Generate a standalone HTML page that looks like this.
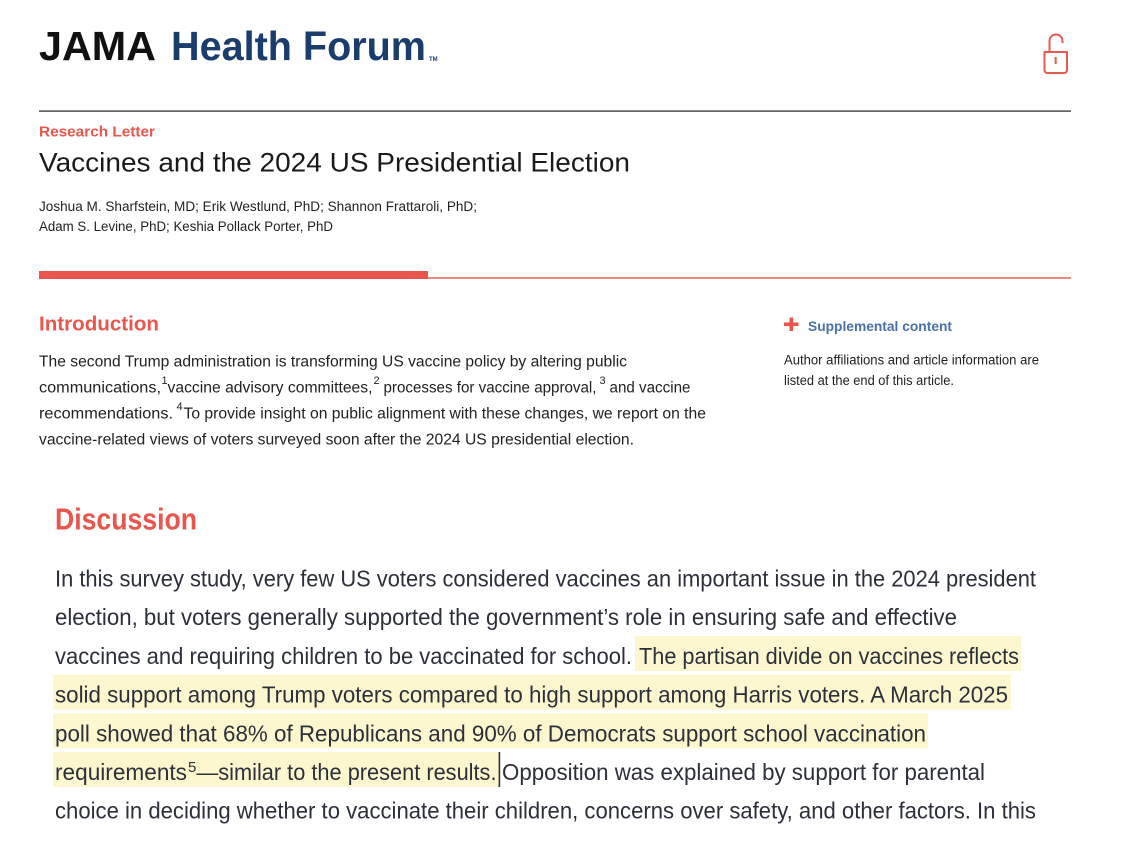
<!DOCTYPE html>
<html>
<head>
<meta charset="utf-8">
<style>
  html,body{margin:0;padding:0;background:#fff;}
  svg{display:block;}
  text{font-family:"Liberation Sans", Arial, sans-serif;}
</style>
</head>
<body>
<svg width="1129" height="862" viewBox="0 0 1129 862" xmlns="http://www.w3.org/2000/svg">
  <rect x="0" y="0" width="1129" height="862" fill="#ffffff"/>

  <!-- Logo -->
  <text x="39" y="60" font-size="41" font-weight="bold" fill="#111111" textLength="117" lengthAdjust="spacingAndGlyphs">JAMA</text>
  <text x="171" y="60" font-size="41" font-weight="bold" fill="#1b3d6d" textLength="255" lengthAdjust="spacingAndGlyphs">Health Forum</text>
  <text x="429" y="61" font-size="6" font-weight="bold" fill="#1b3d6d">TM</text>

  <!-- Lock icon -->
  <g fill="none" stroke="#e55a50" stroke-width="2">
    <path d="M1049.5 52 V41 a6.5 6.5 0 0 1 13 0 V43"/>
    <path d="M1044.5 52 H1067 V70 a3 3 0 0 1 -3 3 H1047.5 a3 3 0 0 1 -3 -3 Z"/>
    <line x1="1055.7" y1="57" x2="1055.7" y2="64"/>
  </g>

  <!-- Top rule -->
  <rect x="39" y="110.5" width="1032" height="1.2" fill="#222"/>

  <!-- Research Letter -->
  <text x="39" y="136.5" font-size="15" font-weight="bold" fill="#e9564d" textLength="116" lengthAdjust="spacingAndGlyphs">Research Letter</text>
  <text x="39" y="171.5" font-size="27" fill="#1a1a1a" textLength="591" lengthAdjust="spacingAndGlyphs">Vaccines and the 2024 US Presidential Election</text>

  <text x="39" y="211" font-size="13.5" fill="#222" textLength="438" lengthAdjust="spacingAndGlyphs">Joshua M. Sharfstein, MD; Erik Westlund, PhD; Shannon Frattaroli, PhD;</text>
  <text x="39" y="231" font-size="13.5" fill="#222" textLength="294" lengthAdjust="spacingAndGlyphs">Adam S. Levine, PhD; Keshia Pollack Porter, PhD</text>

  <!-- Red bars -->
  <rect x="39" y="271" width="389" height="8" fill="#e9564d"/>
  <rect x="428" y="277.3" width="643" height="1.4" fill="#e9564d"/>

  <!-- Introduction -->
  <text x="39" y="330.5" font-size="20" font-weight="bold" fill="#e9564d" textLength="120" lengthAdjust="spacingAndGlyphs">Introduction</text>

  <text x="39" y="366.5" font-size="15.5" fill="#222" textLength="588" lengthAdjust="spacingAndGlyphs">The second Trump administration is transforming US vaccine policy by altering public</text>

  <text x="39" y="392.5" font-size="15.5" fill="#222" textLength="122" lengthAdjust="spacingAndGlyphs">communications,</text>
  <text x="161.5" y="384" font-size="11" fill="#222">1</text>
  <text x="167.5" y="392.5" font-size="15.5" fill="#222" textLength="205" lengthAdjust="spacingAndGlyphs">vaccine advisory committees,</text>
  <text x="373.5" y="384" font-size="11" fill="#222">2</text>
  <text x="383.5" y="392.5" font-size="15.5" fill="#222" textLength="213" lengthAdjust="spacingAndGlyphs">processes for vaccine approval,</text>
  <text x="599.5" y="384" font-size="11" fill="#222">3</text>
  <text x="609.5" y="392.5" font-size="15.5" fill="#222" textLength="81" lengthAdjust="spacingAndGlyphs">and vaccine</text>

  <text x="39" y="418.5" font-size="15.5" fill="#222" textLength="134" lengthAdjust="spacingAndGlyphs">recommendations.</text>
  <text x="176.5" y="410" font-size="11" fill="#222">4</text>
  <text x="183.5" y="418.5" font-size="15.5" fill="#222" textLength="522.5" lengthAdjust="spacingAndGlyphs">To provide insight on public alignment with these changes, we report on the</text>

  <text x="39" y="444.5" font-size="15.5" fill="#222" textLength="595" lengthAdjust="spacingAndGlyphs">vaccine-related views of voters surveyed soon after the 2024 US presidential election.</text>

  <!-- Right column -->
  <g fill="#e9564d">
    <rect x="789.5" y="317.5" width="3.6" height="13.5"/>
    <rect x="784" y="322.5" width="14.5" height="3.6"/>
  </g>
  <text x="808" y="331" font-size="14" font-weight="bold" fill="#4a70aa" textLength="144" lengthAdjust="spacingAndGlyphs">Supplemental content</text>
  <text x="784" y="364.5" font-size="13.5" fill="#222" textLength="255" lengthAdjust="spacingAndGlyphs">Author affiliations and article information are</text>
  <text x="784" y="385" font-size="13.5" fill="#222" textLength="170" lengthAdjust="spacingAndGlyphs">listed at the end of this article.</text>

  <!-- Discussion -->
  <text x="55" y="529.5" font-size="31" font-weight="bold" fill="#e9564d" textLength="142" lengthAdjust="spacingAndGlyphs">Discussion</text>

  <!-- Highlights -->
  <g fill="#fdf7cf">
    <rect x="635" y="636" width="386" height="35"/>
    <rect x="53" y="674.6" width="958" height="35"/>
    <rect x="53" y="713.3" width="875" height="35"/>
    <rect x="53" y="752" width="446" height="35"/>
  </g>

  <g font-size="23" fill="#2c303a">
    <text x="55" y="586.5" textLength="981" lengthAdjust="spacingAndGlyphs">In this survey study, very few US voters considered vaccines an important issue in the 2024 president</text>
    <text x="55" y="625.2" textLength="902" lengthAdjust="spacingAndGlyphs">election, but voters generally supported the government’s role in ensuring safe and effective</text>
    <text x="55" y="663.9" textLength="577" lengthAdjust="spacingAndGlyphs">vaccines and requiring children to be vaccinated for school.</text>
    <text x="639" y="663.9" textLength="380" lengthAdjust="spacingAndGlyphs">The partisan divide on vaccines reflects</text>
    <text x="55" y="702.6" textLength="953" lengthAdjust="spacingAndGlyphs">solid support among Trump voters compared to high support among Harris voters. A March 2025</text>
    <text x="55" y="741.3" textLength="871" lengthAdjust="spacingAndGlyphs">poll showed that 68% of Republicans and 90% of Democrats support school vaccination</text>
    <text x="55" y="780" textLength="132" lengthAdjust="spacingAndGlyphs">requirements</text>
    <text x="188" y="772" font-size="15">5</text>
    <text x="196.5" y="780" textLength="300" lengthAdjust="spacingAndGlyphs">—similar to the present results.</text>
    <text x="502" y="780" textLength="483" lengthAdjust="spacingAndGlyphs">Opposition was explained by support for parental</text>
    <text x="55" y="818.7" textLength="981" lengthAdjust="spacingAndGlyphs">choice in deciding whether to vaccinate their children, concerns over safety, and other factors. In this</text>
  </g>

  <!-- Cursor -->
  <rect x="498.6" y="752" width="1.6" height="35" fill="#333"/>
</svg>
</body>
</html>
